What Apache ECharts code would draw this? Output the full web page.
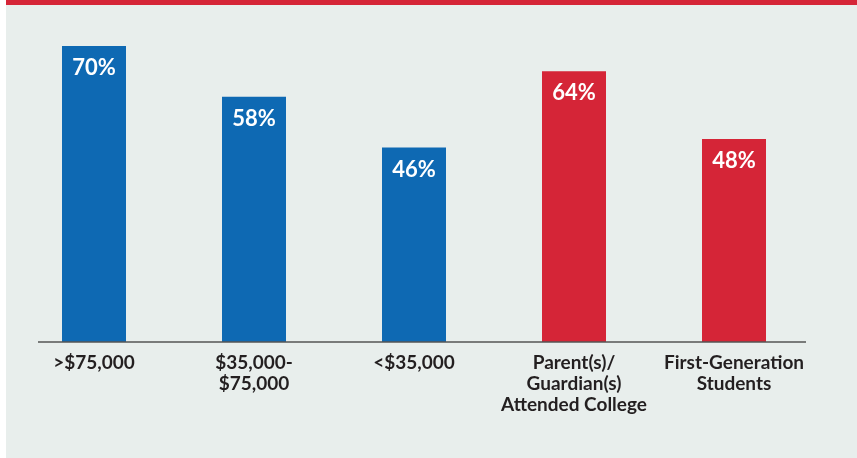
<!DOCTYPE html>
<html lang="en">
<head>
    <meta charset="UTF-8">
    <title>Bar chart</title>
    <style>
        body { margin: 0; background: #fff; }
        #chart { position: absolute; left: 6px; top: 0; width: 851px; height: 458px; }
    </style>
</head>
<body>
<div id="chart"></div>
<script type="text/javascript" src="https://cdn.jsdelivr.net/npm/echarts@6/dist/echarts.min.js"></script>
<script type="text/javascript">
var categories = ['>$75,000', '$35,000-\n$75,000', '<$35,000', 'Parent(s)/\nGuardian(s)\nAttended College', 'First-Generation\nStudents'];
var values = [70, 58, 46, 64, 48];
var barColors = ['#0e69b3', '#0e69b3', '#0e69b3', '#d52537', '#d52537'];

var myChart = echarts.init(document.getElementById('chart'));
var option = {
    backgroundColor: '#e8eeec',
    animation: false,
    grid: {
        left: 8,
        width: 800,
        top: 46,
        bottom: 116
    },
    graphic: [
        {
            type: 'rect',
            left: 0, top: 0,
            shape: {width: 851, height: 5},
            style: {fill: '#d52537'}
        },
        {
            type: 'line',
            shape: {x1: 32, y1: 342, x2: 800, y2: 342},
            style: {stroke: '#555', lineWidth: 1.5},
            z: 10
        }
    ],
    xAxis: {
        type: 'category',
        data: categories,
        axisLine: {show: false},
        axisTick: {show: false},
        axisLabel: {
            interval: 0,
            margin: 10,
            color: '#231f20',
            fontFamily: 'Lato',
            fontWeight: 'bold',
            fontSize: 19,
            lineHeight: 21
        }
    },
    yAxis: {
        type: 'value',
        min: 0,
        max: 70,
        show: false,
        splitLine: {show: false}
    },
    series: [
        {
            type: 'bar',
            barWidth: 64,
            data: values.map(function (v, i) {
                return {value: v, itemStyle: {color: barColors[i]}};
            }),
            label: {
                show: true,
                position: 'insideTop',
                distance: 11,
                formatter: '{c}%',
                color: '#fff',
                fontFamily: 'Lato',
                fontWeight: 'bold',
                fontSize: 22
            }
        }
    ]
};
myChart.setOption(option);
</script>
</body>
</html>
